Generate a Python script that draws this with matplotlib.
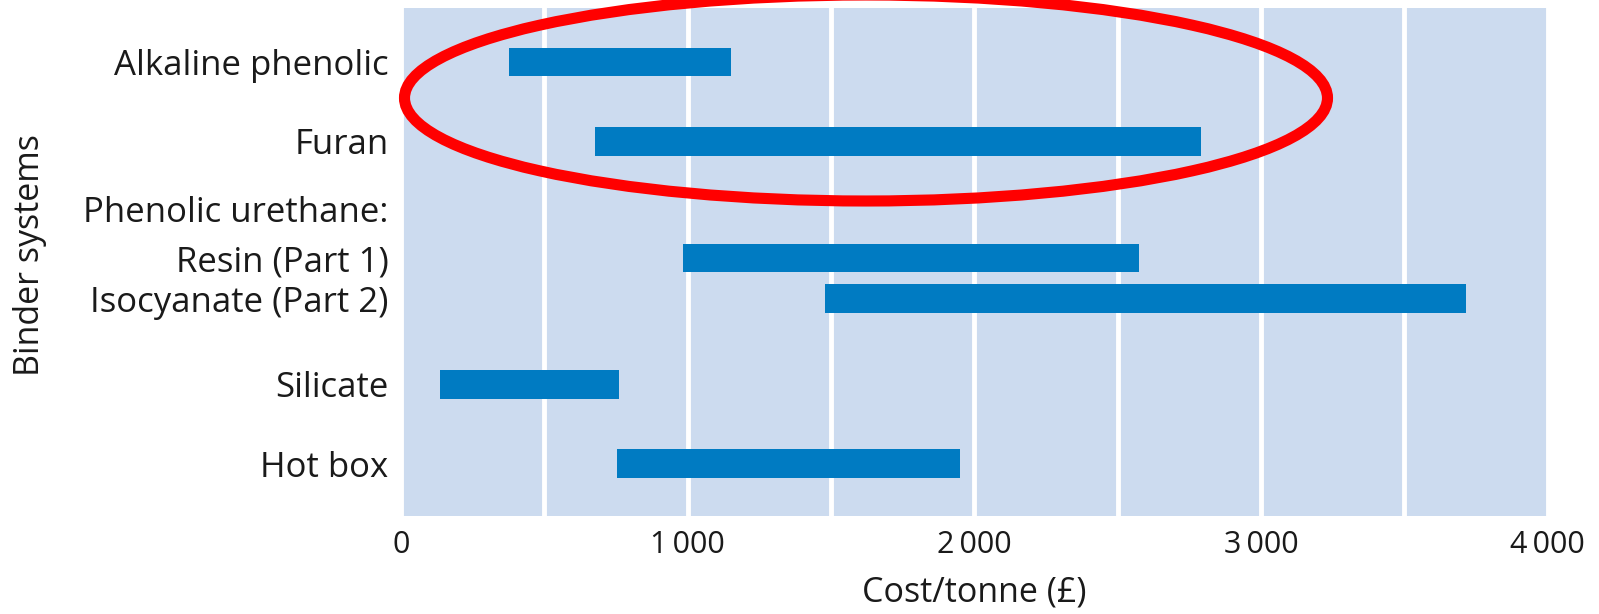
import matplotlib.pyplot as plt
from matplotlib.patches import Ellipse
from matplotlib.ticker import FuncFormatter, MultipleLocator

plt.rcParams['font.family'] = ['Open Sans', 'DejaVu Sans']

# binder cost ranges, £ per tonne
binders = ['Alkaline phenolic', 'Furan', 'Resin (Part 1)',
           'Isocyanate (Part 2)', 'Silicate', 'Hot box']
cost_low = [375, 675, 985, 1480, 135, 755]
cost_high = [1150, 2790, 2575, 3715, 760, 1950]
ypos = [5.72, 4.72, 3.25, 2.74, 1.66, 0.66]

# group heading without a bar of its own
group_label = 'Phenolic urethane:'
group_y = 3.87

BAR = '#007BC2'
BG = '#CCDBEF'
TXT = '#1a1a1a'

fig = plt.figure(figsize=(15.99, 6.14), dpi=100)
ax = fig.add_axes([0.2508, 0.1596, 0.7172, 0.8274])
ax.set_facecolor(BG)

widths = [h - l for l, h in zip(cost_low, cost_high)]
ax.barh(ypos, widths, left=cost_low, height=0.36, color=BAR, zorder=3)

ax.set_xlim(0, 4000)
ax.set_ylim(0, 6.4)

ax.xaxis.set_major_locator(MultipleLocator(1000))
ax.xaxis.set_minor_locator(MultipleLocator(500))
ax.xaxis.set_major_formatter(FuncFormatter(
    lambda v, p: '0' if v == 0 else f'{int(v):,}'.replace(',', '\u2009')))
ax.grid(axis='x', which='both', color='white', linewidth=3.5, zorder=1)
ax.set_axisbelow(True)

ax.set_yticks(ypos + [group_y])
ax.set_yticklabels(binders + [group_label])
ax.tick_params(axis='y', length=0, pad=9, labelsize=25, labelcolor=TXT)
ax.tick_params(axis='x', which='both', length=0, pad=10, labelsize=22,
               labelcolor=TXT)

for s in ax.spines.values():
    s.set_visible(False)

ax.set_xlabel('Cost/tonne (£)', fontsize=24.5, color=TXT, labelpad=11)
fig.text(0.019, 0.585, 'Binder systems', rotation=90, ha='center', va='center',
         fontsize=24.5, color=TXT)

# red highlight ring around the first two binders
ring = Ellipse((866 / 1599, 1 - 98 / 614), 923 / 1599, 206 / 614,
               transform=fig.transFigure, fill=False, edgecolor='#FF0000',
               linewidth=8, zorder=10)
fig.patches.append(ring)

fig.savefig('out.png', dpi=100, facecolor='white')
